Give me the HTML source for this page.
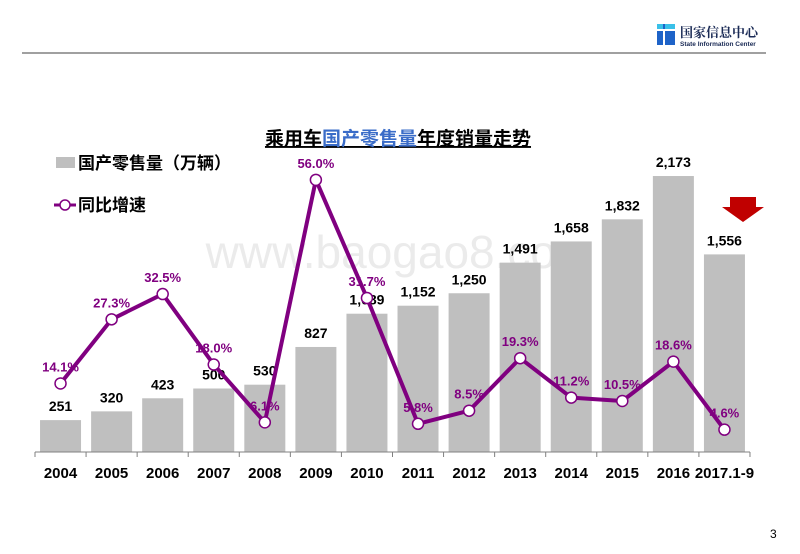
<!DOCTYPE html>
<html><head><meta charset="utf-8"><style>
body{margin:0;background:#fff;}
svg{display:block;font-family:"Liberation Sans","Noto Sans CJK SC",sans-serif;}
</style></head><body>
<svg id="c" width="800" height="554" viewBox="0 0 800 554">
<line x1="22" y1="53" x2="766" y2="53" stroke="#808080" stroke-width="1.5"/>
<g>
<rect x="657" y="24" width="18" height="21" fill="#1e63c8"/>
<rect x="657" y="24" width="6" height="5" fill="#39c0e8"/>
<rect x="665" y="24" width="10" height="5" fill="#39c0e8"/>
<rect x="663" y="29" width="2" height="16" fill="#fff"/>
<rect x="657" y="29" width="18" height="2" fill="#fff"/>
<text x="680" y="37" font-size="13" font-weight="bold" fill="#1a2a55" font-family="Noto Serif CJK SC, serif">国家信息中心</text>
<text x="680" y="46" font-size="6.5" font-weight="bold" fill="#1a2a55">State Information Center</text>
</g>
<text x="400" y="268" text-anchor="middle" font-size="46" fill="#ebebeb">www.baogao8.com</text>
<text x="398" y="145" text-anchor="middle" font-size="19" font-weight="bold" text-decoration="underline"><tspan fill="#000">乘用车</tspan><tspan fill="#3a6cc8">国产零售量</tspan><tspan fill="#000">年度销量走势</tspan></text>
<g>
<rect x="56" y="157" width="19" height="11" fill="#bfbfbf"/>
<text x="78" y="169" font-size="17" font-weight="bold">国产零售量（万辆）</text>
</g>
<g>
<line x1="54" y1="205" x2="76" y2="205" stroke="#800080" stroke-width="3"/>
<circle cx="65" cy="205" r="5" fill="#fff" stroke="#800080" stroke-width="1.5"/>
<text x="78" y="211" font-size="17" font-weight="bold">同比增速</text>
</g>
<path d="M730 197 H756 V207 H764 L743 222 L722 207 H730 Z" fill="#c00000"/>
<text x="770" y="538" font-size="12">3</text>
<g id="plot"></g>
</svg>
<script>
const categories=["2004","2005","2006","2007","2008","2009","2010","2011","2012","2013","2014","2015","2016","2017.1-9"];
const sales=[251,320,423,500,530,827,1089,1152,1250,1491,1658,1832,2173,1556];
const salesLabels=["251","320","423","500","530","827","1,089","1,152","1,250","1,491","1,658","1,832","2,173","1,556"];
const growth=[14.1,27.3,32.5,18.0,6.1,56.0,31.7,5.8,8.5,19.3,11.2,10.5,18.6,4.6];
const NS="http://www.w3.org/2000/svg";
const g=document.getElementById('plot');
const x0=35,x1=750,base=452,bw=51.07;
const xC=i=>x0+bw*(i+0.5);
const yS=v=>base-v*0.127;
const yG=v=>base-v*4.86;
function mk(t,a){const e=document.createElementNS(NS,t);for(const k in a)e.setAttribute(k,a[k]);g.appendChild(e);return e;}
categories.forEach((c,i)=>{
 const r=mk('rect',{x:xC(i)-20.5,y:yS(sales[i]),width:41,height:base-yS(sales[i]),fill:'#bfbfbf'});
 
 
 const t=mk('text',{x:xC(i),y:yS(sales[i])-9,'text-anchor':'middle','font-size':14,'font-weight':'bold',fill:'#000'});
 t.textContent=salesLabels[i];
 
 
 const xl=mk('text',{x:xC(i),y:478,'text-anchor':'middle','font-size':15,'font-weight':'bold',fill:'#000'});
 xl.textContent=c;
 
 
});
const ax=mk('line',{x1:x0,y1:base,x2:x1,y2:base,stroke:'#808080','stroke-width':1});


for(let i=0;i<=categories.length;i++){
 const tk=mk('line',{x1:x0+bw*i,y1:base,x2:x0+bw*i,y2:base+5,stroke:'#808080'});
 
 
}
const pl=mk('polyline',{points:growth.map((v,i)=>xC(i)+','+yG(v)).join(' '),fill:'none',stroke:'#800080','stroke-width':4,'stroke-linejoin':'round'});


growth.forEach((v,i)=>{
 const c=mk('circle',{cx:xC(i),cy:yG(v),r:5.5,fill:'#fff',stroke:'#800080','stroke-width':1.5});
 
 
 const t=mk('text',{x:xC(i),y:yG(v)-12,'text-anchor':'middle','font-size':13,'font-weight':'bold',fill:'#800080'});
 t.textContent=v.toFixed(1)+'%';
 
 
});
</script>
</body></html>
